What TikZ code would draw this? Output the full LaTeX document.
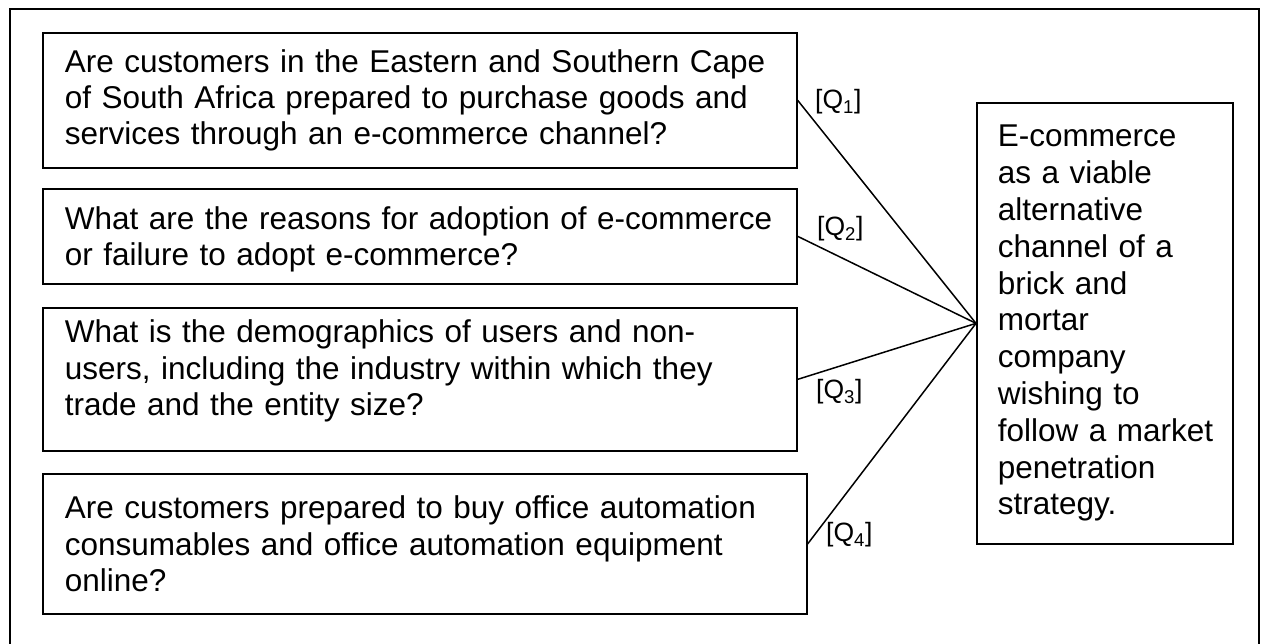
\documentclass[tikz,border=0pt]{standalone}
\usepackage{fontspec}
\setmainfont{Liberation Sans}
\tikzset{
  qbox/.style={draw, line width=1.7pt, inner xsep=22pt, inner ysep=0pt, align=left,
    font=\fontsize{31.5}{36.4}\selectfont, anchor=north west},
  qlabel/.style={font=\fontsize{26.5}{30}\selectfont, inner sep=0pt, anchor=west},
  link/.style={line width=1.5pt},
  frameline/.style={line width=2.6pt},
}
\begin{document}
\begin{tikzpicture}[x=1pt,y=-1pt]
\useasboundingbox (0,0) rectangle (1261,644);
\draw[frameline] (10,644) -- (10,9) -- (1259,9) -- (1259,644);

\node[qbox, text width=710pt, minimum height=135pt] (b1) at (42,32)
  {\makebox[710pt][s]{Are customers in the Eastern and Southern Cape}\\
   \makebox[710pt][s]{of South Africa prepared to purchase goods and}\\
   services through an e-commerce channel?};
\node[qbox, text width=710pt, minimum height=95pt] (b2) at (42,188)
  {\rule{0pt}{29pt}What are the reasons for adoption of e-commerce\\
   or failure to adopt e-commerce?};
\node[qbox, text width=710pt, minimum height=143pt] (b3) at (42,307)
  {What is the demographics of users and non-\\
   users, including the industry within which they\\
   trade and the entity size?\rule[-23pt]{0pt}{23pt}};
\node[qbox, text width=720pt, minimum height=140pt] (b4) at (42,473)
  {Are customers prepared to buy office automation\\
   consumables and office automation equipment\\
   online?};
\node[qbox, inner xsep=21pt, text width=214pt, minimum height=441pt,
      font=\fontsize{31.5}{36.8}\selectfont] (r) at (976,102)
  {\mbox{E-commerce}\\ \mbox{as a viable}\\ \mbox{alternative}\\ \mbox{channel of a}\\
   \mbox{brick and}\\ \mbox{mortar}\\ \mbox{company}\\ \mbox{wishing to}\\
   \mbox{follow a market}\\ \mbox{penetration}\\ \mbox{strategy.}};

\draw[link] (b1.east) -- (r.west);
\draw[link] (b2.east) -- (r.west);
\draw[link] (b3.east) -- (r.west);
\draw[link] (b4.east) -- (r.west);

\node[qlabel] (q1) at (815,102) {[Q\textsubscript{1}]};
\node[qlabel] (q2) at (817,229) {[Q\textsubscript{2}]};
\node[qlabel] (q3) at (816,392) {[Q\textsubscript{3}]};
\node[qlabel] (q4) at (826,535) {[Q\textsubscript{4}]};
\end{tikzpicture}
\end{document}
